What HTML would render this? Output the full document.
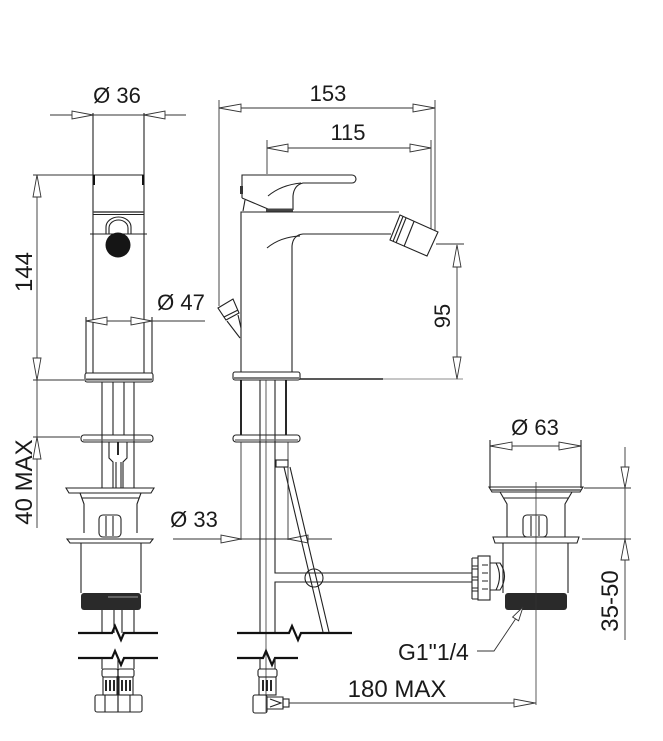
<!DOCTYPE html>
<html><head><meta charset="utf-8"><style>
html,body{margin:0;padding:0;background:#fff;}
svg{display:block;}
.l{stroke:#222;stroke-width:1.1;fill:none}
.d{stroke:#333;stroke-width:0.9;fill:none}
.a{stroke:#333;stroke-width:0.9;fill:#fff}
.k{stroke:#111;stroke-width:2.2;fill:none}
.t{font-family:"Liberation Sans",Arial,sans-serif;fill:#1a1a1a;font-size:22px}
.b{font-size:24px}
</style></head><body>
<svg width="663" height="741" viewBox="0 0 663 741" xmlns="http://www.w3.org/2000/svg">
<rect width="663" height="741" fill="#fff"/>

<!-- ============ LEFT VIEW ============ -->
<!-- Ø36 -->
<line class="d" x1="50" y1="115" x2="186" y2="115"/>
<polygon class="a" points="93,115 72,111 72,119"/>
<polygon class="a" points="144,115 165,111 165,119"/>
<text class="t" x="117" y="103" text-anchor="middle">Ø 36</text>

<!-- body -->
<line class="l" x1="93" y1="113" x2="93" y2="373"/>
<line class="l" x1="144" y1="113" x2="144" y2="373"/>
<path class="l" d="M93,175 H144 M93,214.5 H144"/>
<line x1="93" y1="212" x2="144" y2="212" stroke="#444" stroke-width="1.6"/>
<path d="M94,175 V185 M143,175 V185" stroke="#111" stroke-width="2"/>
<!-- knob -->
<path class="l" d="M106,234 V227 A12.5,10 0 0 1 131,227 V234"/>
<path class="l" d="M109,234 V228 A9.5,8 0 0 1 128,228 V234"/>
<path class="l" d="M90,234 H147"/>
<circle cx="118" cy="245" r="12.5" fill="#151515"/>

<!-- Ø47 -->
<path class="l" d="M86,317 V373 M152,317 V373"/>
<line class="d" x1="86" y1="321" x2="205" y2="321"/>
<polygon class="a" points="86,321 107,317 107,325"/>
<polygon class="a" points="152,321 131,317 131,325"/>
<text class="t" x="181" y="310" text-anchor="middle">Ø 47</text>

<!-- 144 -->
<line class="d" x1="37" y1="175" x2="37" y2="528"/>
<line class="d" x1="33" y1="175" x2="93" y2="175"/>
<line class="d" x1="33" y1="380" x2="84" y2="380"/>
<polygon class="a" points="37,175 33,197 41,197"/>
<polygon class="a" points="37,380 33,358 41,358"/>
<text class="t b" transform="translate(32,272) rotate(-90)" text-anchor="middle">144</text>
<!-- 40 MAX -->
<line class="d" x1="33" y1="437" x2="80" y2="437"/>
<polygon class="a" points="37,437 33,459 41,459"/>
<text class="t b" transform="translate(32,482) rotate(-90)" text-anchor="middle">40 MAX</text>

<!-- plate 1 -->
<rect class="l" x="85" y="373" width="68" height="9" rx="2" fill="#fff"/>
<line x1="86" y1="379.5" x2="152" y2="379.5" stroke="#555" stroke-width="2"/>
<!-- rods -->
<path class="l" d="M102,382 V488 M113,382 V435 M124,382 V435 M134,382 V488"/>
<!-- plate 2 -->
<rect class="l" x="81" y="435" width="72" height="7" rx="3" fill="#fff"/>
<line x1="83" y1="440" x2="151" y2="440" stroke="#666" stroke-width="1.2"/>
<path class="l" d="M109,442 V458 L113,462 V488 M127,442 V458 L123,462 V488"/>
<line x1="118" y1="442" x2="118" y2="455" stroke="#111" stroke-width="1.8"/>
<path class="l" d="M116,462 V488 M121,462 V488"/>
<!-- waste -->
<path class="l" d="M66,488 H154 L151,493 H69 Z" fill="#fff"/>
<path class="l" d="M80,493 L84,504 V533 M141,493 L137,504 V533 M82,498 H139"/>
<rect class="l" x="99" y="515" width="22" height="22" rx="4"/>
<path class="l" d="M106,516 V536 M113,516 V536"/>
<path class="l" d="M67,539 H153 L150,543 H70 Z" fill="#fff"/>
<path class="l" d="M81,543 V593 M141,543 V593"/>
<rect x="81" y="593" width="60" height="17" rx="3" fill="#2a2a2a"/>
<line x1="108" y1="597" x2="138" y2="597" stroke="#999" stroke-width="1"/>
<path class="l" d="M102,610 V633 M114,610 V633 M122,610 V633 M134,610 V633"/>
<!-- breaks -->
<path class="k" d="M78,633 H112 L115,626 L121,640 L124,633 H158"/>
<path class="k" d="M78,658 H112 L115,651 L121,665 L124,658 H158"/>
<path class="l" d="M102,658 V669 M134,658 V669 M118,658 V712"/>
<!-- fittings -->
<rect class="l" x="102" y="669" width="16" height="8" rx="2"/>
<rect class="l" x="118" y="669" width="16" height="8" rx="2"/>
<rect class="l" x="103" y="677" width="14" height="18"/>
<rect class="l" x="119" y="677" width="14" height="18"/>
<path d="M106,680 V691 M110,680 V691 M114,680 V691 M122,680 V691 M126,680 V691 M130,680 V691" stroke="#111" stroke-width="1.8"/>
<rect class="l" x="95" y="695" width="47" height="17" rx="2" stroke-width="1.5"/>
<path class="l" d="M105,695 V712 M118,695 V712 M130,695 V712"/>

<!-- ============ MIDDLE VIEW ============ -->
<!-- 153 -->
<line class="d" x1="219" y1="108" x2="435" y2="108"/>
<polygon class="a" points="219,108 241,104 241,112"/>
<polygon class="a" points="435,108 413,104 413,112"/>
<line class="d" x1="219" y1="100" x2="219" y2="306"/>
<line class="d" x1="435" y1="100" x2="435" y2="231"/>
<text class="t" x="328" y="101" text-anchor="middle">153</text>
<!-- 115 -->
<line class="d" x1="267" y1="148" x2="431" y2="148"/>
<polygon class="a" points="267,148 288,144 288,152"/>
<polygon class="a" points="431,148 410,144 410,152"/>
<line class="d" x1="267" y1="140" x2="267" y2="174"/>
<line class="d" x1="431" y1="140" x2="431" y2="229"/>
<text class="t" x="348" y="140" text-anchor="middle">115</text>

<!-- lever -->
<path class="l" d="M242,198 V175 H352 A4,4 0 0 1 352,183 H303 Q294,185 293,196 V210"/>
<path class="l" d="M268,196 Q281,185 301,183"/>
<path class="l" d="M242,198 L268,209"/>
<path class="l" d="M245,200 L243,211"/>
<line x1="266" y1="210" x2="293" y2="210" stroke="#444" stroke-width="3"/>
<rect x="240" y="186" width="3" height="8" fill="#333"/>
<!-- body -->
<path class="l" d="M241,372 V212 H399"/>
<path class="l" d="M391,234 H303 Q293,235 292,246 V372"/>
<path class="l" d="M267,248 Q280,237 300,236"/>
<!-- nozzle -->
<polygon class="l" points="400,215 438,232 427,256 390,240" fill="#fff"/>
<path class="l" d="M403,216.5 L393,241.5 M406,218 L396,243 M414,221.5 L404,246.5"/>
<!-- side knob -->
<polygon class="l" points="218,308 233,299 239,313 226,320" fill="#fff"/>
<line class="l" x1="224" y1="317" x2="238" y2="310"/>
<path class="l" d="M227,321 L240,338 M238,315 L241,328"/>

<!-- base -->
<rect class="l" x="233" y="372" width="67" height="8" rx="2" fill="#fff"/>
<line x1="234" y1="378" x2="299" y2="378" stroke="#555" stroke-width="1.5"/>
<line x1="300" y1="379" x2="383" y2="379" stroke="#222" stroke-width="1.6"/>
<line x1="383" y1="379" x2="463" y2="379" stroke="#666" stroke-width="0.7"/>
<!-- 95 -->
<line class="d" x1="457" y1="245" x2="457" y2="379"/>
<polygon class="a" points="457,245 453,267 461,267"/>
<polygon class="a" points="457,379 453,357 461,357"/>
<line class="d" x1="436" y1="244" x2="464" y2="244"/>
<text class="t" transform="translate(450,316) rotate(-90)" text-anchor="middle">95</text>

<!-- under body -->
<path d="M241,380 V435 M286,380 V435" stroke="#111" stroke-width="1.8" fill="none"/>
<path class="l" d="M260,380 V632 M275,380 V573 H472 M275,632 V582 H472"/>
<line x1="266" y1="380" x2="266" y2="712" stroke="#333" stroke-width="0.8"/>
<rect class="l" x="233" y="435" width="67" height="7" rx="3" fill="#fff"/>
<line x1="235" y1="440" x2="298" y2="440" stroke="#666" stroke-width="1.2"/>
<!-- Ø33 -->
<line class="d" x1="241" y1="442" x2="241" y2="540"/>
<line class="d" x1="288" y1="442" x2="288" y2="540"/>
<line class="d" x1="173" y1="539" x2="332" y2="539"/>
<polygon class="a" points="241,539 221,535 221,543"/>
<polygon class="a" points="288,539 308,535 308,543"/>
<text class="t" x="194" y="527" text-anchor="middle">Ø 33</text>
<!-- hose -->
<rect class="l" x="276" y="460" width="12" height="7" fill="#fff"/>
<path class="l" d="M284,467 L323,632 M290,467 L329,632"/>
<circle class="l" cx="314" cy="578" r="9" fill="#fff"/>
<!-- breaks -->
<path class="k" d="M237,633 H289 L292,626 L298,640 L301,633 H352"/>
<path class="k" d="M237,658 H263 L266,651 L272,665 L275,658 H298"/>
<path class="l" d="M260,658 V669 M275,658 V669"/>
<rect class="l" x="258" y="669" width="19" height="8" rx="2"/>
<rect class="l" x="259" y="677" width="17" height="18"/>
<path d="M263,680 V691 M267,680 V691 M271,680 V691" stroke="#111" stroke-width="1.8"/>
<rect class="l" x="253" y="695" width="14" height="18" rx="2" stroke-width="1.5"/>
<path class="l" d="M267,697 H283 V709 H267 M270,699 L281,703 L270,707"/>
<rect class="l" x="283" y="699" width="6" height="8"/>
<!-- 180 MAX -->
<line class="d" x1="289" y1="703" x2="536" y2="703"/>
<polygon class="a" points="535,703 514,699 514,707"/>
<text class="t b" x="397" y="697" text-anchor="middle">180 MAX</text>

<!-- ============ RIGHT VIEW ============ -->
<line class="d" x1="490" y1="446" x2="581" y2="446"/>
<polygon class="a" points="490,446 512,442 512,450"/>
<polygon class="a" points="581,446 559,442 559,450"/>
<path class="l" d="M490,440 V488 M581,440 V488"/>
<text class="t" x="535" y="435" text-anchor="middle">Ø 63</text>
<path class="l" d="M489,487 H583 L580,492 H492 Z" fill="#fff"/>
<line x1="491" y1="490" x2="581" y2="490" stroke="#555" stroke-width="1.5"/>
<path class="l" d="M500,492 L507,504 V537 M572,492 L565,504 V537 M503,498 H569"/>
<rect class="l" x="523" y="515" width="24" height="22" rx="4"/>
<path class="l" d="M531,516 V536 M539,516 V536"/>
<path class="l" d="M493,537 H579 L577,543 H495 Z" fill="#fff"/>
<path class="l" d="M503,543 V593 M568,543 V593"/>
<rect x="505" y="593" width="62" height="17" rx="3" fill="#2a2a2a"/>
<line x1="536" y1="482" x2="536" y2="705" stroke="#333" stroke-width="0.8"/>
<!-- side nut -->
<rect class="l" x="478" y="556" width="12" height="44" fill="#fff"/>
<path class="l" d="M472,558 H478 M472,566 H478 M472,569 H478 M472,577 H478 M472,580 H478 M472,588 H478 M472,591 H478 M472,599 H478 M472,558 V599"/>
<path class="l" d="M482,565 H488 M482,573 H488 M482,581 H488 M482,589 H488"/>
<path class="l" d="M490,563 H500 Q509,576 500,590 H490"/>
<path class="l" d="M496,563 Q503,576 496,590"/>
<!-- 35-50 -->
<line class="d" x1="625" y1="447" x2="625" y2="640"/>
<polygon class="a" points="625,488 621,467 629,467"/>
<polygon class="a" points="625,539 621,560 629,560"/>
<line class="d" x1="584" y1="488" x2="631" y2="488"/>
<line class="d" x1="582" y1="539" x2="631" y2="539"/>
<text class="t b" transform="translate(618,601) rotate(-90)" text-anchor="middle">35-50</text>
<!-- G1"1/4 -->
<path class="d" d="M477,651 H494 L515.6,618.9"/>
<polygon class="a" points="523,607 512.6,617 518.6,620.8"/>
<text class="t" x="398" y="660" style="font-size:23px">G1"1/4</text>
</svg>
</body></html>
